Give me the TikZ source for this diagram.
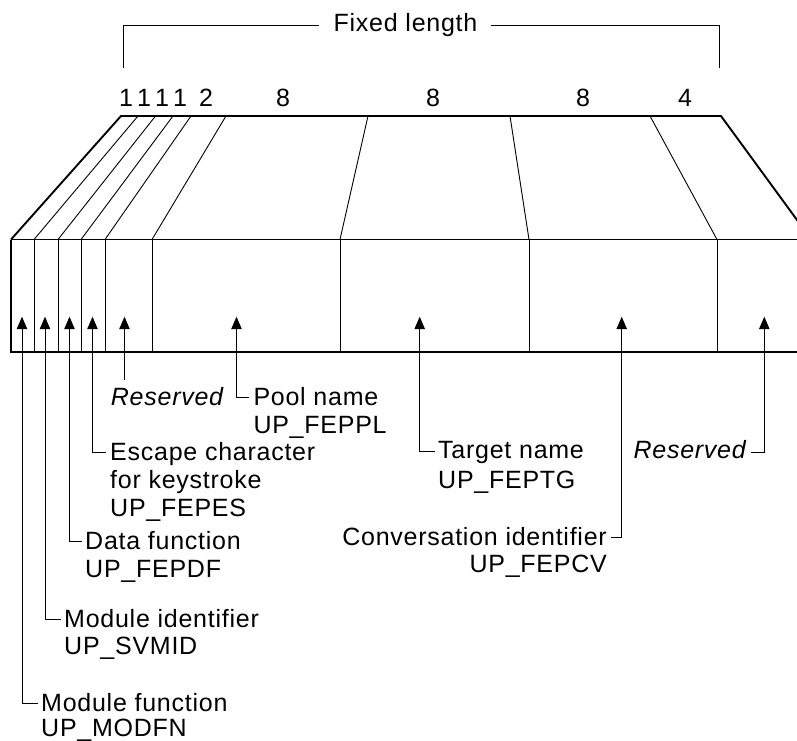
\documentclass[tikz,border=0pt]{standalone}
\usepackage{fontspec}
\setmainfont[LetterSpace=3]{Liberation Sans}
\usetikzlibrary{arrows.meta}
\begin{document}
\begin{tikzpicture}[x=1pt,y=-1pt,
  lbl/.style={font=\fontsize{25}{28}\selectfont, inner sep=0pt, anchor=base west},
  lblr/.style={lbl, anchor=base east},
  num/.style={lbl, anchor=base},
  heavy/.style={line width=1.9pt},
  thinl/.style={line width=0.9pt},
  arr/.style={-{Triangle[width=10.5pt,length=12.5pt]}, line width=1pt}]
\useasboundingbox (0,0) rectangle (797,740);
\clip (0,0) rectangle (797,740);

% top edge division points
\coordinate (t0) at (121,116);
\coordinate (t1) at (138,116);
\coordinate (t2) at (155.5,116);
\coordinate (t3) at (173,116);
\coordinate (t4) at (191,116);
\coordinate (t5) at (226,116);
\coordinate (t6) at (368,116);
\coordinate (t7) at (510,116);
\coordinate (t8) at (650,116);
\coordinate (t9) at (721,116);
% box top division points
\coordinate (b0) at (11,239.5);
\coordinate (b1) at (34,239.5);
\coordinate (b2) at (58,239.5);
\coordinate (b3) at (81,239.5);
\coordinate (b4) at (105,239.5);
\coordinate (b5) at (152,239.5);
\coordinate (b6) at (340,239.5);
\coordinate (b7) at (529,239.5);
\coordinate (b8) at (717,239.5);
\coordinate (b9) at (811.3,239.5);
% box bottom
\coordinate (c0) at (11,351.7);
\coordinate (c9) at (811.3,351.7);

% perspective top
\draw[heavy, line join=round] (b0) -- (t0) -- (t9) -- (b9);
\foreach \i in {1,...,8} {\draw[thinl] (t\i) -- (b\i);}
% box
\draw[line width=1.4pt] (b0) -- (b9);
\draw[heavy] (b0) -- (c0) -- (c9);
\foreach \i in {1,...,8} {\draw[thinl] (b\i) -- (b\i |- c0);}

% bracket
\node[lbl, anchor=base] (fl) at (405.5,31.7) {Fixed length};
\coordinate (bl) at (123,68);
\coordinate (br) at (719,68);
\draw[thinl] (bl) |- ([xshift=-14pt]fl.west);
\draw[thinl] ([xshift=13pt]fl.east) -| (br);

% field sizes
\node[num] (n1) at (126,106.5) {1};
\node[num] (n2) at (144,106.5) {1};
\node[num] (n3) at (162,106.5) {1};
\node[num] (n4) at (180,106.5) {1};
\node[num] (n5) at (206,106.5) {2};
\node[num] (n6) at (283,106.5) {8};
\node[num] (n7) at (433,106.5) {8};
\node[num] (n8) at (583,106.5) {8};
\node[num] (n9) at (685,106.5) {4};

% arrow tips
\coordinate (p1) at (22,316.7);
\coordinate (p2) at (45,316.7);
\coordinate (p3) at (69.5,316.7);
\coordinate (p4) at (92.5,316.7);
\coordinate (p5) at (124.5,316.7);
\coordinate (p6) at (236.5,316.7);
\coordinate (p7) at (419.7,316.7);
\coordinate (p8) at (621.7,316.7);
\coordinate (p9) at (764.3,316.7);

% labels
\node[lbl, font=\fontsize{25}{28}\selectfont\itshape] (res1) at (110.7,405.7) {Reserved};
\node[lbl] (pool) at (253.3,405.7) {Pool name};
\node[lbl] (poolb) at (253.3,433.5) {UP\_FEPPL};
\node[lbl] (esc) at (110,460) {Escape character};
\node[lbl] (escb) at (110,488) {for keystroke};
\node[lbl] (escc) at (110,516.5) {UP\_FEPES};
\node[lbl] (df) at (85,549.5) {Data function};
\node[lbl] (dfb) at (85,577) {UP\_FEPDF};
\node[lbl] (mi) at (64,627.7) {Module identifier};
\node[lbl] (mib) at (64,654.5) {UP\_SVMID};
\node[lbl] (mf) at (41,711) {Module function};
\node[lbl] (mfb) at (41,736) {UP\_MODFN};
\node[lbl] (tg) at (438,458.3) {Target name};
\node[lbl] (tgb) at (438,488.3) {UP\_FEPTG};
\node[lblr] (cv) at (607,545) {Conversation identifier};
\node[lblr] (cvb) at (607,572.7) {UP\_FEPCV};
\node[lblr, font=\fontsize{25}{28}\selectfont\itshape] (res2) at (746,458.3) {Reserved};

% connectors
\draw[arr] ([xshift=-3pt,yshift=8pt]mf.base west) -| (p1);
\draw[arr] ([xshift=-3pt,yshift=8pt]mi.base west) -| (p2);
\draw[arr] ([xshift=-3pt,yshift=8pt]df.base west) -| (p3);
\draw[arr] ([xshift=-4pt,yshift=8pt]esc.base west) -| (p4);
\draw[arr] ([yshift=7pt]res1.north -| p5) -- (p5);
\draw[arr] ([xshift=-4pt,yshift=8pt]pool.base west) -| (p6);
\draw[arr] ([xshift=-3pt,yshift=7pt]tg.base west) -| (p7);
\draw[arr] ([xshift=4pt,yshift=7.5pt]cv.base east) -| (p8);
\draw[arr] ([xshift=5pt,yshift=6pt]res2.base east) -| (p9);
\end{tikzpicture}
\end{document}
